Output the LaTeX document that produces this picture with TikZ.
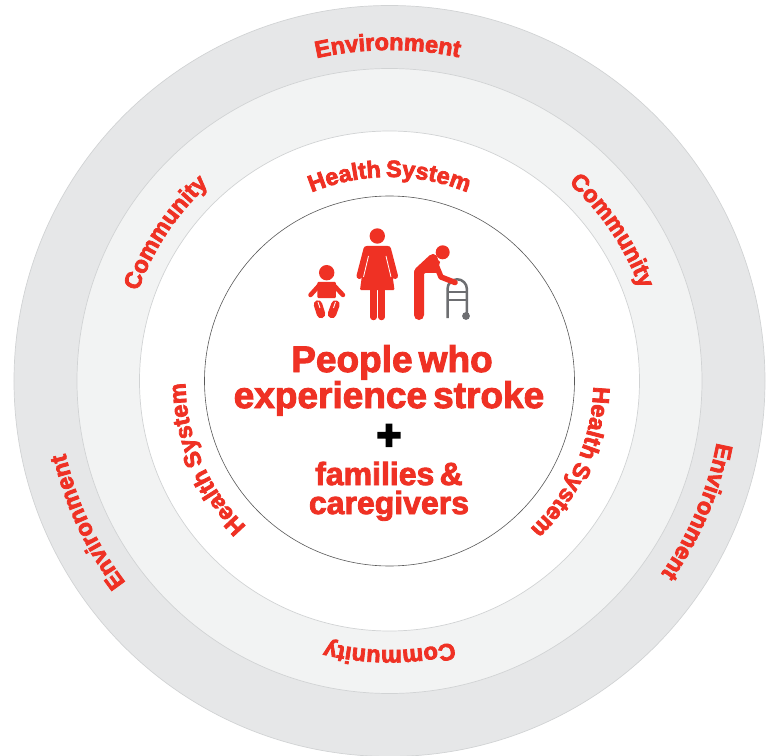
\documentclass[tikz,border=0pt]{standalone}
\usepackage{fontspec}
\usetikzlibrary{decorations.text}
\newfontfamily\heavyfont[FakeBold=2.6,WordSpace=0.6]{Liberation Sans Bold}
\newfontfamily\ringface[FakeBold=3.2,WordSpace=0.7]{Liberation Sans Bold}
\newfontfamily\plusfont[FakeBold=5]{Liberation Sans Bold}
\newcommand\ringfont{\fontsize{23.5}{23.5}\selectfont\ringface}
\definecolor{strokered}{HTML}{EF3124}
\definecolor{envgrey}{HTML}{E6E7E8}
\definecolor{commgrey}{HTML}{F2F3F3}
\definecolor{ringline}{HTML}{D1D3D4}
\definecolor{walkergrey}{HTML}{6D6E71}
\tikzset{
  x=1pt,y=1pt,
  ring/.style={circle,draw=ringline,line width=0.7pt,inner sep=0pt,minimum size=#1},
  titletext/.style={anchor=base,text=strokered,font=\fontsize{37}{37}\selectfont\heavyfont,inner sep=0pt},
  subtext/.style={anchor=base,text=strokered,font=\fontsize{32}{32}\selectfont\heavyfont,inner sep=0pt},
  plustext/.style={text=black,font=\fontsize{42}{42}\selectfont\plusfont,inner sep=0pt},
  limb/.style={draw=strokered,line cap=round,line join=round,line width=#1},
  slit/.style={draw=white,line width=0.8pt},
  walker/.style={draw=walkergrey,line width=2.5pt},
}
\newcommand\ringlabel[4]{% text, centre angle, radius, half span
  \path[decorate,decoration={text along path,text align=center,
     text={|\ringfont\color{strokered}|#1}}]
     (#2+#4:#3) arc[start angle=#2+#4,end angle=#2-#4,radius=#3];}
\begin{document}
\begin{tikzpicture}
\useasboundingbox (-389.5,-374) rectangle (381.5,381);
\node[ring=751pt,fill=envgrey] (env) at (0,0) {};
\node[ring=625pt,fill=commgrey] (comm) at (0,0) {};
\node[ring=500pt,fill=white] (health) at (0,0) {};
\node[circle,draw=black!65,line width=0.6pt,fill=white,inner sep=0pt,minimum size=370pt] (people) at (0,0) {};

\ringlabel{Environment}{90.3}{331}{50}
\ringlabel{Environment}{-23}{333}{50}
\ringlabel{Environment}{205}{332}{50}
\ringlabel{Community}{146.5}{267}{50}
\ringlabel{Community}{34}{267}{50}
\ringlabel{Community}{-90}{269}{50}
\ringlabel{Health System}{90}{204}{60}
\ringlabel{Health System}{-24}{204}{60}
\ringlabel{Health System}{203}{204}{60}

\begin{scope}[shift={(-389.5pt,381pt)},x=1pt,y=-1pt]
  \node[titletext] (t1) at (392,372) {People who};
  \node[titletext] (t2) at (389,408) {experience stroke};
  \node[plustext] (plus) at (389,437) {+};
  \node[subtext] (t3) at (389,485) {families \&};
  \node[subtext] (t4) at (389,514) {caregivers};

  % baby
  \fill[strokered] (326.7,272.7) circle (7.7);
  \fill[strokered,rounded corners=1pt] (317.5,282) -- (336,282) -- (336,298) -- (317.5,298) -- cycle;
  \draw[limb=4.5pt] (319.5,285) -- (310.5,295);
  \draw[limb=4.5pt] (333.5,285) -- (343,295);
  \draw[limb=8.5pt] (318,304.5) -- (321,314);
  \draw[limb=8.5pt] (335.5,304.5) -- (332,314);
  \draw[slit] (318,302) -- (320,308);
  \draw[slit] (335.5,302) -- (333.5,308);
  % woman
  \fill[strokered] (377.3,236) circle (7.7);
  \fill[strokered,rounded corners=1pt] (366,246) -- (388.5,246) -- (394.5,290) -- (360,290) -- cycle;
  \draw[limb=6pt] (366.5,249) -- (359.5,276);
  \draw[limb=6pt] (388,249) -- (395,276);
  \draw[slit] (368.5,256) -- (363.5,277);
  \draw[slit] (386,256) -- (391,277);
  \draw[limb=6.5pt] (373.5,288) -- (373.5,317);
  \draw[limb=6.5pt] (381.5,288) -- (381.5,317);
  % walker
  \draw[walker] (447.5,318) -- (447.5,289) arc[start angle=180,end angle=360,radius=9.7] -- (466.9,315);
  \draw[walker,line width=2pt] (448,291.5) -- (466,291.5);
  \draw[walker,line width=2pt] (448,299.5) -- (466,299.5);
  \fill[walkergrey] (466,316) circle (3.9);
  % older person
  \fill[strokered] (442.7,252.3) circle (7);
  \draw[limb=10pt] (419,315) -- (419,272) -- (433,259);
  \fill[strokered] (414,271) -- (433,254) -- (440,262) -- (437,273) -- (424,273) -- cycle;
  \draw[limb=5.5pt] (434,260) -- (441,277) -- (455,282.5);
\end{scope}
\end{tikzpicture}
\end{document}
